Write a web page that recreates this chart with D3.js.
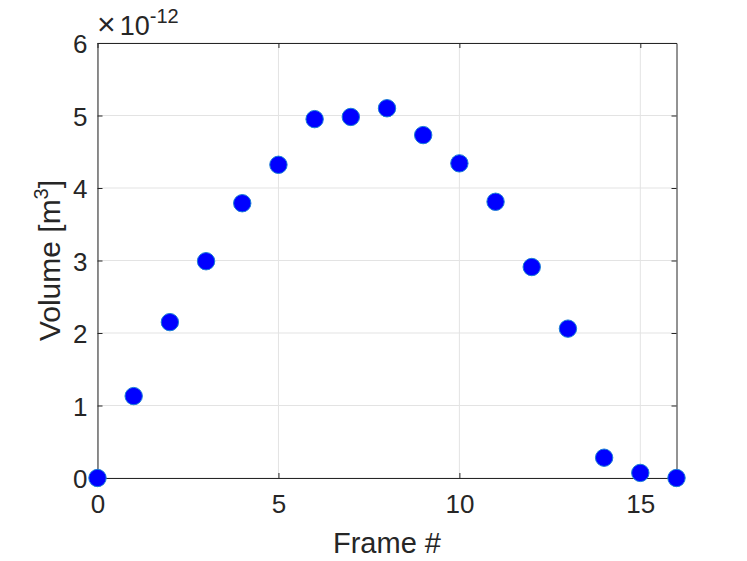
<!DOCTYPE html>
<html><head><meta charset="utf-8">
<script src="https://cdn.jsdelivr.net/npm/d3@7"></script>
<style>body{margin:0;background:#fff}svg{display:block}text{font-family:"Liberation Sans",Arial,sans-serif;fill:#262626}</style>
</head><body><svg id="c" width="747" height="561"></svg>
<script>
const frames = [0,1,2,3,4,5,6,7,8,9,10,11,12,13,14,15,16];
const volumes = [0,1.13,2.15,2.99,3.79,4.32,4.95,4.98,5.10,4.73,4.34,3.81,2.91,2.06,0.28,0.07,0];
const xTicks = [0,5,10,15];
const yTicks = [0,1,2,3,4,5,6];
const xLabel = "Frame #";
const exponent = "-12";

const svg = d3.select("#c");
const L=97.5, R=676.5, T=43, B=478;
const x = d3.scaleLinear().domain([0,16]).range([L,R]);
const y = d3.scaleLinear().domain([0,6]).range([B,T]);
const ax = "#262626";
const fmt = d3.format("d");

// grid
svg.append("g").selectAll("line").data(xTicks).join("line")
  .attr("x1",d=>x(d)).attr("x2",d=>x(d)).attr("y1",T).attr("y2",B)
  .attr("stroke","#e3e3e3").attr("stroke-width",1);
svg.append("g").selectAll("line").data(yTicks).join("line")
  .attr("x1",L).attr("x2",R).attr("y1",d=>y(d)).attr("y2",d=>y(d))
  .attr("stroke","#e3e3e3").attr("stroke-width",1);

// axes
const xa = svg.append("g").attr("transform",`translate(0,${B})`)
  .call(d3.axisBottom(x).tickValues(xTicks).tickFormat(fmt).tickSizeInner(-5).tickSizeOuter(0).tickPadding(17));
const xt = svg.append("g").attr("transform",`translate(0,${T})`)
  .call(d3.axisTop(x).tickValues(xTicks).tickSizeInner(-5).tickSizeOuter(0).tickFormat(""));
const ya = svg.append("g").attr("transform",`translate(${L},0)`)
  .call(d3.axisLeft(y).tickValues(yTicks).tickFormat(fmt).tickSizeInner(-5).tickSizeOuter(0).tickPadding(10));
const yr = svg.append("g").attr("transform",`translate(${R},0)`)
  .call(d3.axisRight(y).tickValues(yTicks).tickSizeInner(-5).tickSizeOuter(0).tickFormat(""));
[xa,xt,ya,yr].forEach(g=>{
  g.attr("font-size",null).attr("font-family",null);
  g.selectAll("path").attr("stroke",ax).attr("stroke-width",1);
  g.selectAll("line").attr("stroke",ax).attr("stroke-width",1);
  g.selectAll("text").style("font-size","26px").attr("fill",ax);
});
ya.selectAll("text").attr("dy","0.38em");

// points
svg.append("g").selectAll("circle").data(frames).join("circle")
  .attr("cx",(d)=>x(d)).attr("cy",(d,i)=>y(volumes[i])).attr("r",8.7)
  .attr("fill","#0000ff").attr("stroke","#1a7fd6").attr("stroke-width",1);

// labels
svg.append("text").attr("x",(L+R)/2).attr("y",553).attr("text-anchor","middle")
  .style("font-size","29px").text(xLabel);
const yl = svg.append("text").attr("transform",`translate(60,${(T+B)/2}) rotate(-90)`)
  .attr("text-anchor","middle").style("font-size","30px");
yl.append("tspan").text("Volume [m");
yl.append("tspan").attr("dy",-12).style("font-size","20px").text("3");
yl.append("tspan").attr("dy",12).text("]");

const ex = svg.append("text").attr("x",97).attr("y",35).style("font-size","27px");
ex.append("tspan").style("font-size","32px").text("\u00d7");
ex.append("tspan").attr("dx",4).text("10");
ex.append("tspan").attr("dy",-12).style("font-size","20px").text(exponent);
</script></body></html>
